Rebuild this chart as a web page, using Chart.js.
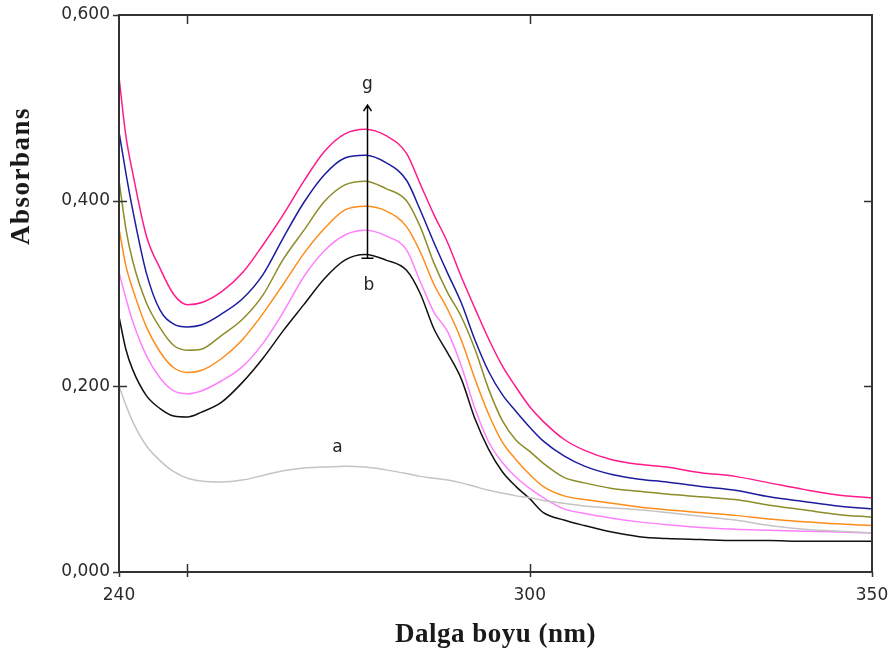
<!DOCTYPE html>
<html>
<head>
<meta charset="utf-8">
<script src="https://cdn.jsdelivr.net/npm/chart.js@4/dist/chart.umd.min.js"></script>
<style>
    html, body { margin: 0; padding: 0; background: #fff; }
    #wrap { width: 892px; height: 660px; position: relative; }
</style>
</head>
<body>
<div id="wrap"><canvas id="chart"></canvas></div>
<script>
// wavelength (nm) and absorbance
const wavelengths = [240, 241, 242, 244, 246, 248, 250, 252, 255, 258, 261, 264, 267, 270, 273, 276, 279, 282, 284, 286, 288, 290, 292, 294, 296, 298, 300, 302, 305, 308, 312, 316, 320, 325, 330, 335, 340, 345, 350];

const absA = [0.200, 0.180, 0.162, 0.136, 0.120, 0.108, 0.101, 0.098, 0.097, 0.099, 0.104, 0.109, 0.112, 0.113, 0.114, 0.113, 0.110, 0.106, 0.103, 0.101, 0.099, 0.096, 0.092, 0.088, 0.085, 0.082, 0.080, 0.077, 0.074, 0.071, 0.069, 0.067, 0.064, 0.060, 0.056, 0.050, 0.046, 0.044, 0.042];
const absB = [0.275, 0.240, 0.218, 0.190, 0.176, 0.168, 0.167, 0.172, 0.183, 0.204, 0.230, 0.260, 0.288, 0.316, 0.336, 0.342, 0.336, 0.325, 0.300, 0.262, 0.236, 0.208, 0.165, 0.132, 0.108, 0.092, 0.079, 0.064, 0.056, 0.050, 0.043, 0.038, 0.036, 0.035, 0.034, 0.034, 0.033, 0.033, 0.033];
const absC = [0.323, 0.295, 0.270, 0.233, 0.209, 0.195, 0.192, 0.195, 0.206, 0.221, 0.246, 0.280, 0.318, 0.346, 0.363, 0.368, 0.362, 0.347, 0.313, 0.280, 0.259, 0.222, 0.176, 0.140, 0.118, 0.102, 0.090, 0.080, 0.068, 0.063, 0.058, 0.054, 0.051, 0.048, 0.046, 0.045, 0.044, 0.043, 0.042];
const absD = [0.370, 0.330, 0.305, 0.264, 0.237, 0.220, 0.215, 0.217, 0.230, 0.250, 0.278, 0.310, 0.343, 0.370, 0.390, 0.394, 0.389, 0.372, 0.345, 0.310, 0.283, 0.250, 0.208, 0.170, 0.140, 0.121, 0.105, 0.092, 0.082, 0.078, 0.074, 0.070, 0.067, 0.064, 0.061, 0.057, 0.054, 0.052, 0.050];
const absE = [0.422, 0.370, 0.335, 0.290, 0.263, 0.244, 0.239, 0.240, 0.255, 0.272, 0.298, 0.337, 0.368, 0.399, 0.417, 0.421, 0.413, 0.400, 0.372, 0.333, 0.301, 0.275, 0.240, 0.197, 0.163, 0.142, 0.130, 0.117, 0.102, 0.096, 0.090, 0.087, 0.084, 0.081, 0.078, 0.072, 0.067, 0.062, 0.059];
const absF = [0.474, 0.430, 0.390, 0.322, 0.282, 0.267, 0.264, 0.266, 0.278, 0.294, 0.320, 0.360, 0.398, 0.428, 0.446, 0.449, 0.441, 0.422, 0.390, 0.355, 0.322, 0.290, 0.250, 0.216, 0.191, 0.173, 0.156, 0.141, 0.125, 0.114, 0.105, 0.100, 0.097, 0.092, 0.088, 0.081, 0.076, 0.071, 0.068];
const absG = [0.533, 0.470, 0.430, 0.362, 0.327, 0.299, 0.288, 0.290, 0.302, 0.322, 0.352, 0.385, 0.421, 0.453, 0.472, 0.477, 0.470, 0.451, 0.418, 0.385, 0.355, 0.318, 0.284, 0.251, 0.222, 0.199, 0.178, 0.162, 0.143, 0.131, 0.121, 0.116, 0.113, 0.107, 0.103, 0.096, 0.089, 0.083, 0.080];

const seriesNames = ["a", "b", "c", "d", "e", "f", "g"];
const seriesValues = [absA, absB, absC, absD, absE, absF, absG];
const seriesColors = ["#c4c4c4", "#111111", "#ff80ff", "#ff8c1a", "#8c8c28", "#1c1ca0", "#ff1a8c"];

const xTicks = [240, 250, 300, 350];
const xLabels = [240, 300, 350];
const yTicks = [0, 0.2, 0.4, 0.6];

// curve labels and the b -> g arrow
const curveLabels = [
    { text: "g", x: 276.3, y: 0.525 },
    { text: "b", x: 276.5, y: 0.309 },
    { text: "a", x: 271.9, y: 0.134 },
];
const arrowX = 276.3;
const arrowFrom = 0.338;
const arrowTo = 0.503;

const axisFont = "'DejaVu Sans', sans-serif";
const titleFont = "'Liberation Serif', 'Times New Roman', serif";

const decorations = {
    id: "decorations",
    afterDraw(chart) {
        const { ctx, chartArea: a, scales: { x, y } } = chart;
        ctx.save();

        // frame
        ctx.strokeStyle = "#333";
        ctx.lineWidth = 2;
        ctx.strokeRect(a.left, a.top, a.right - a.left, a.bottom - a.top);

        // tick marks
        ctx.lineWidth = 1.5;
        ctx.beginPath();
        yTicks.forEach((v) => {
            const py = Math.round(y.getPixelForValue(v)) + 0.5;
            ctx.moveTo(a.left - 6, py);
            ctx.lineTo(a.left, py);
            if (v > 0 && v < 0.6) {
                ctx.lineTo(a.left + 8, py);
                ctx.moveTo(a.right, py);
                ctx.lineTo(a.right - 8, py);
            }
        });
        xTicks.forEach((v) => {
            const px = Math.round(x.getPixelForValue(v)) + 0.5;
            ctx.moveTo(px, a.bottom + 5);
            ctx.lineTo(px, a.bottom);
            if (v > 240 && v < 350) {
                ctx.lineTo(px, a.bottom - 8);
                ctx.moveTo(px, a.top);
                ctx.lineTo(px, a.top + 9);
            }
        });
        ctx.stroke();

        // arrow
        const ax = Math.round(x.getPixelForValue(arrowX)) + 0.5;
        const y0 = y.getPixelForValue(arrowFrom);
        const y1 = y.getPixelForValue(arrowTo);
        ctx.strokeStyle = "#000";
        ctx.lineWidth = 1.5;
        ctx.beginPath();
        ctx.moveTo(ax, y0);
        ctx.lineTo(ax, y1);
        ctx.moveTo(ax - 4, y1 + 6);
        ctx.lineTo(ax, y1);
        ctx.lineTo(ax + 4, y1 + 6);
        ctx.moveTo(ax - 6, y0);
        ctx.lineTo(ax + 6, y0);
        ctx.stroke();

        // curve labels
        ctx.fillStyle = "#222";
        ctx.font = "17px " + axisFont;
        ctx.textAlign = "center";
        ctx.textBaseline = "middle";
        curveLabels.forEach((l) => {
            ctx.fillText(l.text, x.getPixelForValue(l.x), y.getPixelForValue(l.y));
        });

        // axis titles
        ctx.fillStyle = "#1a1a1a";
        ctx.font = "bold 27px " + titleFont;
        ctx.letterSpacing = "0.5px";
        ctx.fillText("Dalga boyu (nm)", (a.left + a.right) / 2, 635);
        ctx.translate(22, 176);
        ctx.rotate(-Math.PI / 2);
        ctx.letterSpacing = "1.5px";
        ctx.fillText("Absorbans", 0, 0);

        ctx.restore();
    },
};

new Chart(document.getElementById("chart"), {
    type: "line",
    data: {
        datasets: seriesValues.map((vals, i) => ({
            label: seriesNames[i],
            data: wavelengths.map((w, j) => ({ x: w, y: vals[j] })),
            borderColor: seriesColors[i],
            borderWidth: 1.5,
            pointRadius: 0,
            fill: false,
            cubicInterpolationMode: "monotone",
        })),
    },
    options: {
        responsive: true,
        maintainAspectRatio: false,
        animation: false,
        events: [],
        layout: { padding: { top: 15, right: 20, left: 0, bottom: 0 } },
        plugins: {
            legend: { display: false },
            tooltip: { enabled: false },
        },
        scales: {
            x: {
                type: "linear",
                min: 240,
                max: 350,
                border: { display: false },
                grid: { display: false },
                afterBuildTicks: (scale) => {
                    scale.ticks = xTicks.map((v) => ({ value: v }));
                },
                afterFit: (scale) => {
                    scale.height = 88;
                    scale.paddingLeft = 0;
                    scale.paddingRight = 0;
                },
                ticks: {
                    autoSkip: false,
                    maxRotation: 0,
                    padding: 5,
                    color: "#2a2a2a",
                    font: { family: axisFont, size: 17 },
                    callback: (v) => (xLabels.includes(v) ? String(v) : ""),
                },
            },
            y: {
                min: 0,
                max: 0.6,
                border: { display: false },
                grid: { display: false },
                afterBuildTicks: (scale) => {
                    scale.ticks = yTicks.map((v) => ({ value: v }));
                },
                afterFit: (scale) => {
                    scale.width = 119;
                    scale.paddingTop = 0;
                    scale.paddingBottom = 0;
                },
                ticks: {
                    padding: 1,
                    color: "#2a2a2a",
                    font: { family: axisFont, size: 17 },
                    callback: (v) => v.toFixed(3).replace(".", ","),
                },
            },
        },
    },
    plugins: [decorations],
});
</script>
</body>
</html>
